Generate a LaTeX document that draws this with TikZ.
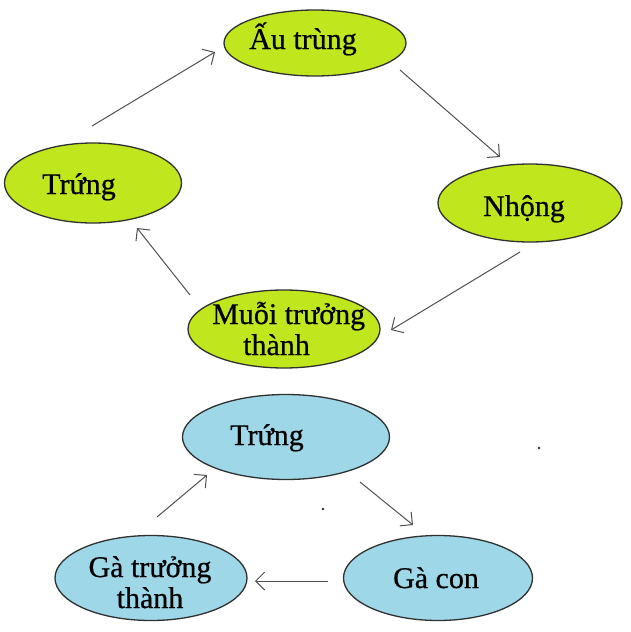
\documentclass[tikz,border=0pt]{standalone}
\usepackage{fontspec}
\setmainfont{Liberation Serif}[FakeBold=0.6]
\usetikzlibrary{shapes.geometric,arrows.meta}
\definecolor{leaf}{HTML}{C0E61E}
\definecolor{sky}{HTML}{9ED8E8}
\definecolor{rim}{HTML}{303030}
\definecolor{arrowgray}{HTML}{505050}
\tikzset{
  oval/.style={ellipse, draw=rim, line width=1.3pt, inner sep=0pt},
  greenoval/.style={oval, fill=leaf},
  blueoval/.style={oval, fill=sky},
  lbl/.style={font=\fontsize{30}{31}\selectfont, inner sep=0pt, anchor=base, text=black},
  arr/.style={draw=arrowgray, line width=1pt, -{Straight Barb[length=9pt,width=18pt,line width=1pt]}},
  dotmark/.style={circle, fill=rim, inner sep=0pt, minimum size=2.6pt}
}
\begin{document}
\begin{tikzpicture}[x=1pt,y=-1pt]
\useasboundingbox (0,0) rectangle (631,632);
% mosquito cycle
\node[greenoval, minimum width=182pt, minimum height=66pt] (au) at (315,43) {};
\node[greenoval, minimum width=177pt, minimum height=80pt] (trung1) at (93,183) {};
\node[greenoval, minimum width=184pt, minimum height=78pt] (nhong) at (530,203) {};
\node[greenoval, minimum width=192pt, minimum height=78pt] (muoi) at (284,329) {};
\node[lbl] (tau) at (303,49) {Ấu trùng};
\node[lbl] (ttrung1) at (79,194) {Trứng};
\node[lbl] (tnhong) at (524,216) {Nhộng};
\node[lbl, align=left, anchor=base west] (tmuoi) at (212,355) {Muỗi trưởng\\\hspace*{31pt}thành};
% chicken cycle
\node[blueoval, minimum width=207pt, minimum height=85pt] (trung2) at (286,437) {};
\node[blueoval, minimum width=189pt, minimum height=85pt] (gacon) at (438,578) {};
\node[blueoval, minimum width=192pt, minimum height=85pt] (gatruong) at (151,578) {};
\node[lbl] (ttrung2) at (267,445) {Trứng};
\node[lbl] (tgacon) at (436,588) {Gà con};
\node[lbl, align=center] (tgatruong) at (150,608) {Gà trưởng\\thành};
% arrow ends
\coordinate (a1s) at (92,126);  \coordinate (a1e) at (215,52);
\coordinate (a2s) at (400,70);  \coordinate (a2e) at (500,157);
\coordinate (a3s) at (520,252); \coordinate (a3e) at (391,330);
\coordinate (a4s) at (190,295); \coordinate (a4e) at (137,228);
\coordinate (a5s) at (360,482); \coordinate (a5e) at (413,525);
\coordinate (a6s) at (328,581); \coordinate (a6e) at (255,581);
\coordinate (a7s) at (157,517); \coordinate (a7e) at (207,475);
\draw[arr] (a1s) -- (a1e);
\draw[arr] (a2s) -- (a2e);
\draw[arr] (a3s) -- (a3e);
\draw[arr] (a4s) -- (a4e);
\draw[arr] (a5s) -- (a5e);
\draw[arr] (a6s) -- (a6e);
\draw[arr] (a7s) -- (a7e);
% stray dots
\node[dotmark] (dot1) at (539,448) {};
\node[dotmark] (dot2) at (323,509) {};
\end{tikzpicture}
\end{document}
